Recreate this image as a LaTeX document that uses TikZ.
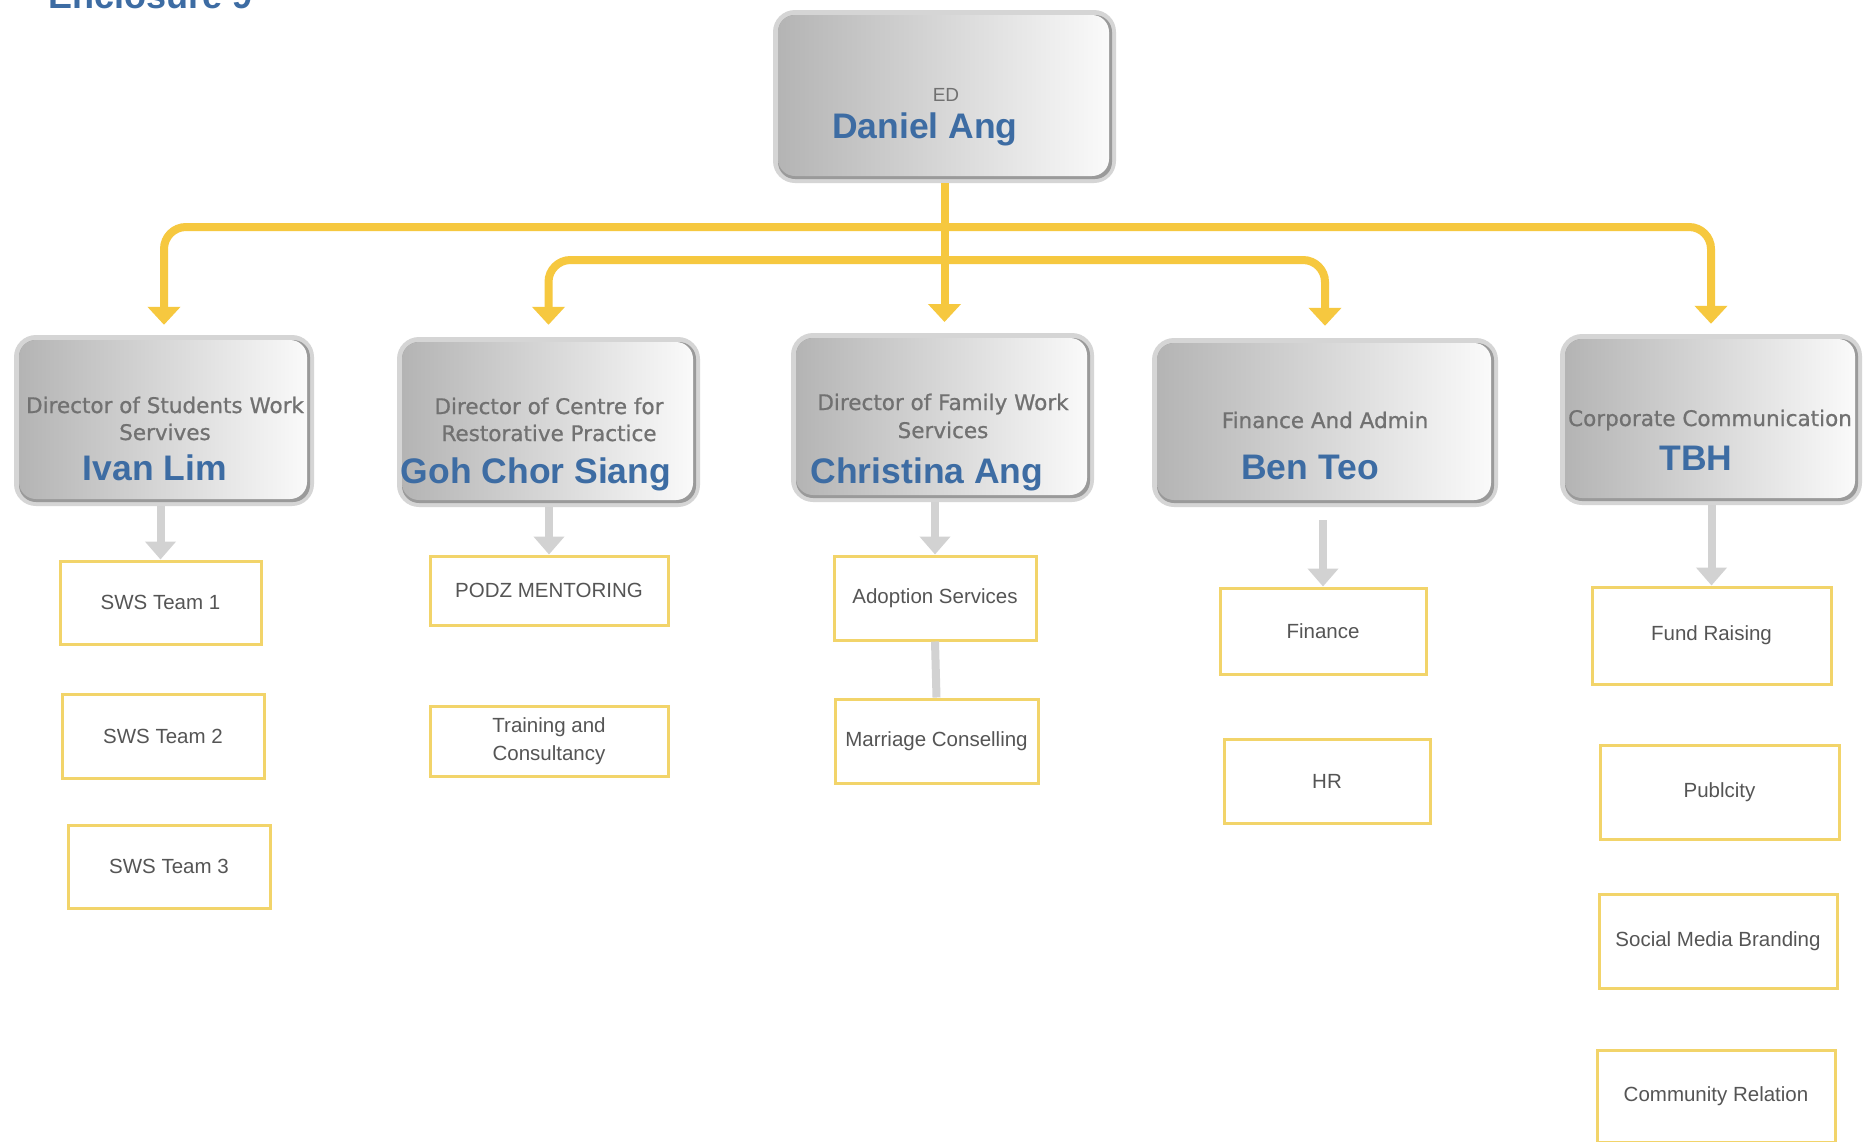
\documentclass[tikz,border=0pt]{standalone}
\usepackage{fontspec}
\setmainfont{Liberation Sans}
\newfontfamily\dvs{DejaVu Sans}[BoldFont={DejaVu Sans},BoldFeatures={FakeBold=0.8}]
\usetikzlibrary{arrows.meta}
\definecolor{ylw}{HTML}{F6C83F}
\definecolor{boxy}{HTML}{F2D46A}
\definecolor{gry}{HTML}{D2D2D2}
\definecolor{nameblue}{HTML}{3D6CA3}
\definecolor{titlegray}{HTML}{717171}
\definecolor{txtgray}{HTML}{555555}
\definecolor{framec}{HTML}{D5D5D5}
\definecolor{edgec}{HTML}{9A9A9A}
\definecolor{shL}{HTML}{B4B4B4}
\definecolor{shR}{HTML}{FAFAFA}
\tikzset{
 dirbox/.style={rectangle, rounded corners=22pt, fill=framec, inner sep=0pt,
  path picture={
   \fill[edgec, rounded corners=17pt] ([xshift=5pt,yshift=-5pt]path picture bounding box.north west) rectangle ([xshift=-4pt,yshift=4pt]path picture bounding box.south east);
   \shade[left color=shL, right color=shR, rounded corners=17pt] ([xshift=5pt,yshift=-5pt]path picture bounding box.north west) rectangle ([xshift=-7pt,yshift=7pt]path picture bounding box.south east);
  }},
 nametext/.style={font=\fontsize{35.5}{40}\selectfont\bfseries, text=nameblue, anchor=base, inner sep=0pt},
 titletext/.style={font=\dvs\bfseries\fontsize{21.5}{26}\selectfont, text=titlegray, anchor=base, inner sep=0pt},
 sbox/.style={rectangle, draw=boxy, line width=3pt, fill=white, font=\fontsize{20.5}{28}\selectfont, text=txtgray, align=center, inner sep=0pt},
 yarr/.style={draw=ylw, line width=8pt, rounded corners=22pt, -{Triangle[width=32pt,length=18pt]}},
 garr/.style={draw=gry, line width=8pt, -{Triangle[width=30pt,length=18pt]}},
 gline/.style={draw=gry, line width=8pt}
}
\begin{document}
\begin{tikzpicture}[x=1pt,y=-1pt]
\path[use as bounding box] (0,0) rectangle (1871,1141);
\clip (0,0) rectangle (1871,1141);
\fill[white] (0,0) rectangle (1871,1141);

\node[anchor=base west, font=\fontsize{36}{40}\selectfont\bfseries, text=nameblue, inner sep=0pt] (encl) at (48,8) {Enclosure 9};

% top box
\node[dirbox, minimum width=343pt, minimum height=173pt] (top) at (944.5,96.5) {};
\node[font=\fontsize{19}{20}\selectfont, text=titlegray, anchor=base, inner sep=0pt] (edt) at (946,101) {ED};
\node[nametext] (edn) at (925,138) {Daniel Ang};

% director boxes
\node[dirbox, minimum width=300pt, minimum height=171pt] (d1) at (164,420.5) {};
\node[dirbox, minimum width=303pt, minimum height=170pt] (d2) at (548.5,422) {};
\node[dirbox, minimum width=303pt, minimum height=169pt] (d3) at (942.5,417.5) {};
\node[dirbox, minimum width=346pt, minimum height=169pt] (d4) at (1325,422.5) {};
\node[dirbox, minimum width=302pt, minimum height=171pt] (d5) at (1711,419.5) {};

\node[titletext] (d1a) at (165,413) {Director of Students Work};
\node[titletext] (d1b) at (165,440) {Servives};
\node[nametext] (d1n) at (155,480) {Ivan Lim};

\node[titletext] (d2a) at (549,414) {Director of Centre for};
\node[titletext] (d2b) at (549,441) {Restorative Practice};
\node[nametext] (d2n) at (536,483) {Goh Chor Siang};

\node[titletext] (d3a) at (943,410) {Director of Family Work};
\node[titletext] (d3b) at (943,438) {Services};
\node[nametext] (d3n) at (927,483) {Christina Ang};

\node[titletext] (d4a) at (1325,428) {Finance And Admin};
\node[nametext] (d4n) at (1310,479) {Ben Teo};

\node[titletext] (d5a) at (1710,426) {Corporate Communication};
\node[nametext] (d5n) at (1696,470) {TBH};

% small boxes
\node[sbox, minimum width=201pt, minimum height=83pt] (s1) at (160.5,602.5) {SWS Team 1};
\node[sbox, minimum width=202pt, minimum height=84pt] (s2) at (163,736) {SWS Team 2};
\node[sbox, minimum width=202pt, minimum height=83pt] (s3) at (169,866.5) {SWS Team 3};

\node[sbox, minimum width=238pt, minimum height=69pt] (p1) at (549,590.5) {PODZ MENTORING};
\node[sbox, minimum width=238pt, minimum height=70pt] (p2) at (549,741) {Training and\\Consultancy};

\node[sbox, minimum width=202pt, minimum height=84pt] (a1) at (935,598) {Adoption Services};
\node[sbox, minimum width=203pt, minimum height=84pt] (a2) at (936.5,741) {Marriage Conselling};

\node[sbox, minimum width=206pt, minimum height=86pt] (f1) at (1323,631) {Finance};
\node[sbox, minimum width=206pt, minimum height=84pt] (f2) at (1327,781) {HR};

\node[sbox, minimum width=239pt, minimum height=97pt] (c1) at (1711.5,635.5) {Fund Raising};
\node[sbox, minimum width=239pt, minimum height=94pt] (c2) at (1719.5,792) {Publcity};
\node[sbox, minimum width=238pt, minimum height=94pt] (c3) at (1718,941) {Social Media Branding};
\node[sbox, minimum width=238pt, minimum height=92pt] (c4) at (1716,1096) {Community Relation};

% yellow connectors
\coordinate (busA) at (top.south |- 0,227);
\coordinate (busB) at (top.south |- 0,260);
\coordinate (t1) at ([yshift=10pt]d1.north);
\coordinate (t2) at ([yshift=12pt]d2.north);
\coordinate (t3) at (top.south |- 0,322);
\coordinate (t4) at ([yshift=12pt]d4.north);
\coordinate (t5) at ([yshift=10pt]d5.north);
\draw[yarr] (busA) -- (busA -| t1) -- (t1);
\draw[yarr] (busA) -- (busA -| t5) -- (t5);
\draw[yarr] (busB) -- (busB -| t2) -- (t2);
\draw[yarr] (busB) -- (busB -| t4) -- (t4);
\draw[yarr] (top.south) -- (t3);

% gray connectors
\coordinate (g4) at ([yshift=-13pt]d4.south);
\draw[garr] (d1.south -| s1.north) -- (s1.north);
\draw[garr] (d2.south -| p1.north) -- (p1.north);
\draw[garr] (d3.south -| a1.north) -- (a1.north);
\draw[garr] (g4 -| f1.north) -- (f1.north);
\draw[garr] (d5.south -| c1.north) -- (c1.north);
\draw[gline] (a1.south) -- (a2.north);
\end{tikzpicture}
\end{document}
